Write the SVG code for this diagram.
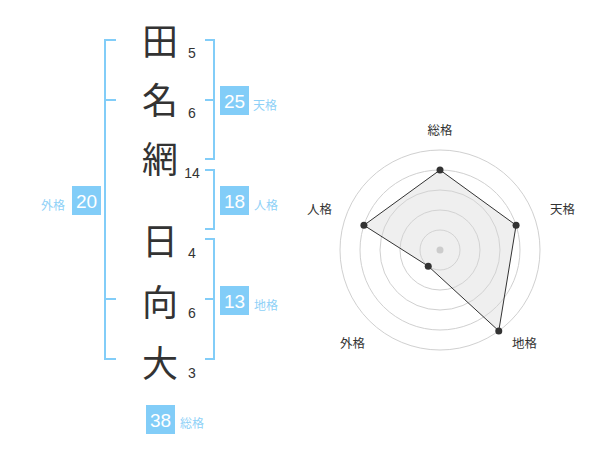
<svg xmlns="http://www.w3.org/2000/svg" width="600" height="470" viewBox="0 0 600 470">
<style>
.br{fill:none;stroke:#82cdf8;stroke-width:2}
.kj{font-family:"Noto Sans CJK JP","Noto Sans CJK SC",sans-serif;font-size:36px;fill:#333;text-anchor:middle}
.st{font-family:"Liberation Sans",Arial,sans-serif;font-size:14px;fill:#333;text-anchor:middle}
.bx{fill:#82cdf8}
.bn{font-family:"Liberation Sans",Arial,sans-serif;font-size:19px;fill:#fff;text-anchor:middle}
.lb{font-family:"Noto Sans CJK JP","Noto Sans CJK SC",sans-serif;font-size:12px;fill:#8fd1f7}
.rg{fill:none;stroke:#d0d0d0;stroke-width:1}
.rl{font-family:"Noto Sans CJK JP","Noto Sans CJK SC",sans-serif;font-size:12.5px;fill:#333;text-anchor:middle}
.pt{fill:#333}
</style>
<rect width="600" height="470" fill="#fff"/>
<g id="connectors">
<path class="br" d="M116,40H105V359H116M105,100H116M105,299H116"/>
<path class="br" d="M205,40H214V159H205M205,100H214"/>
<path class="br" d="M205,170H214V229H205"/>
<path class="br" d="M205,239H214V359H205M205,299H214"/>
</g>
<g id="name">
<text class="kj" x="160" y="55">田</text>
<text class="kj" x="160" y="114">名</text>
<text class="kj" x="160" y="173">網</text>
<text class="kj" x="160" y="255">日</text>
<text class="kj" x="160" y="316">向</text>
<text class="kj" x="160" y="377">大</text>
</g>
<g id="strokes">
<text class="st" x="192" y="58">5</text>
<text class="st" x="192" y="118">6</text>
<text class="st" x="192" y="178">14</text>
<text class="st" x="192" y="258">4</text>
<text class="st" x="192" y="318">6</text>
<text class="st" x="192" y="378">3</text>
</g>
<g id="tenkaku">
<rect class="bx" x="220" y="86" width="29" height="29"/>
<text class="bn" x="234.5" y="107.5">25</text>
<text class="lb" x="253" y="110">天格</text>
</g>
<g id="jinkaku">
<rect class="bx" x="220" y="186" width="29" height="29"/>
<text class="bn" x="234.5" y="207.5">18</text>
<text class="lb" x="254" y="210">人格</text>
</g>
<g id="chikaku">
<rect class="bx" x="220" y="286" width="29" height="29"/>
<text class="bn" x="234.5" y="307.5">13</text>
<text class="lb" x="254" y="310">地格</text>
</g>
<g id="gaikaku">
<rect class="bx" x="72" y="186" width="29" height="29"/>
<text class="bn" x="86.5" y="207.5">20</text>
<text class="lb" x="41" y="210">外格</text>
</g>
<g id="soukaku">
<rect class="bx" x="146" y="405" width="29" height="29"/>
<text class="bn" x="160.5" y="426.5">38</text>
<text class="lb" x="180" y="428">総格</text>
</g>
<g id="radar">
<circle class="rg" cx="440" cy="250" r="20"/>
<circle class="rg" cx="440" cy="250" r="40"/>
<circle class="rg" cx="440" cy="250" r="60"/>
<circle class="rg" cx="440" cy="250" r="80"/>
<circle class="rg" cx="440" cy="250" r="100"/>
<polygon points="440,170 516.08,225.28 498.78,330.9 428.24,266.18 363.92,225.28" fill="#d8d8d8" fill-opacity="0.4" stroke="#333" stroke-width="1"/>
<circle cx="440" cy="250" r="3.5" fill="#ccc"/>
<circle class="pt" cx="440" cy="170" r="3.5"/>
<circle class="pt" cx="516.08" cy="225.28" r="3.5"/>
<circle class="pt" cx="498.78" cy="330.9" r="3.5"/>
<circle class="pt" cx="428.24" cy="266.18" r="3.5"/>
<circle class="pt" cx="363.92" cy="225.28" r="3.5"/>
<text class="rl" x="440" y="135">総格</text>
<text class="rl" x="562.5" y="214">天格</text>
<text class="rl" x="524.5" y="348">地格</text>
<text class="rl" x="352.5" y="348">外格</text>
<text class="rl" x="319.5" y="214">人格</text>
</g>
</svg>
